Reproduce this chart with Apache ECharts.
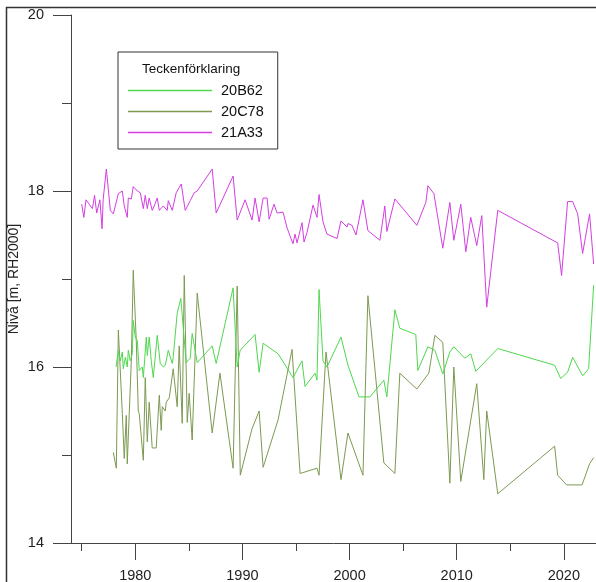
<!DOCTYPE html>
<html>
<head>
<meta charset="utf-8">
<script src="https://cdn.jsdelivr.net/npm/echarts@6/dist/echarts.min.js"></script>
<style>
html,body{margin:0;padding:0;background:#fff;}
#chart{width:596px;height:582px;}
</style>
</head>
<body>
<div id="chart"></div>
<script>
// ---- data ----
const seriesNames = ['20B62', '20C78', '21A33'];
const xTickLabels = [1980, 1990, 2000, 2010, 2020];
const xMinorTicks = [1975, 1985, 1995, 2005, 2015];
const yTickLabels = [14, 16, 18, 20];

const a33Years = [1975.0,1975.2,1975.4,1975.7,1976.0,1976.2,1976.4,1976.7,1976.9,1977.0,1977.3,1977.67,1977.95,1978.42,1978.79,1978.97,1979.25,1979.35,1979.63,1979.81,1980.19,1980.47,1980.75,1980.93,1981.12,1981.3,1981.58,1981.77,1982.05,1982.24,1982.61,1982.98,1983.08,1983.45,1983.82,1984.29,1984.66,1985.13,1985.5,1985.78,1987.18,1987.55,1989.13,1989.51,1990.25,1990.9,1991.18,1991.56,1991.93,1992.3,1992.49,1992.95,1993.23,1993.79,1994.17,1994.72,1994.91,1995.1,1995.56,1995.75,1996.03,1996.59,1996.96,1997.15,1997.52,1997.89,1998.83,1999.2,1999.76,1999.85,2000.22,2000.6,2001.25,2001.71,2002.83,2003.29,2003.48,2004.23,2006.28,2007.12,2007.31,2007.87,2008.7,2009.36,2009.73,2010.38,2010.85,2011.31,2011.87,2012.34,2012.8,2013.83,2019.42,2019.79,2020.35,2020.82,2021.29,2021.75,2022.4,2022.78];
const a33Levels = [17.85,17.7,17.9,17.85,17.8,17.95,17.75,17.9,17.57,17.9,18.25,17.78,17.74,17.97,18.0,17.83,17.7,17.92,17.91,18.05,18.0,17.98,17.8,17.95,17.8,17.92,17.78,17.83,17.92,17.78,17.83,17.78,17.89,17.78,17.98,18.08,17.78,17.89,17.98,18.0,18.25,17.75,18.17,17.67,17.9,17.67,17.92,17.65,17.92,17.92,17.68,17.85,17.75,17.76,17.58,17.4,17.51,17.41,17.64,17.42,17.53,17.84,17.7,17.96,17.65,17.51,17.46,17.66,17.59,17.63,17.61,17.5,17.9,17.55,17.44,17.83,17.54,17.91,17.61,17.87,18.06,17.97,17.35,17.87,17.44,17.85,17.31,17.7,17.38,17.72,16.68,17.78,17.41,17.04,17.88,17.88,17.74,17.29,17.74,17.17];

const b62Years = [1978.2,1978.42,1978.6,1978.79,1978.88,1979.07,1979.25,1979.35,1979.53,1979.72,1979.81,1980.0,1980.19,1980.37,1980.65,1980.75,1981.03,1981.12,1981.3,1981.49,1981.68,1982.05,1982.33,1982.61,1982.8,1983.08,1983.45,1983.54,1983.91,1984.25,1984.75,1985.13,1985.31,1985.78,1987.18,1987.55,1989.13,1989.51,1989.79,1991.18,1991.56,1991.93,1993.33,1994.72,1995.56,1995.84,1996.78,1996.96,1997.15,1997.52,1997.89,1999.2,1999.85,2000.88,2001.9,2003.2,2003.48,2004.23,2004.69,2006.18,2006.37,2007.31,2007.96,2008.7,2009.36,2009.73,2010.75,2011.31,2011.78,2013.83,2019.14,2019.7,2020.35,2020.82,2021.75,2022.31,2022.78];
const b62Levels = [16.0,16.19,16.07,16.17,15.98,16.11,16.0,16.19,16.07,16.15,16.53,16.34,16.3,15.96,16.0,15.88,16.34,16.13,16.34,16.07,15.88,16.36,16.04,16.0,16.02,16.19,16.04,16.11,16.61,16.78,16.05,16.1,16.38,16.05,16.24,16.04,16.9,16.0,16.19,16.37,15.94,16.27,16.15,15.88,16.07,15.78,15.93,15.85,16.88,16.07,16.0,16.34,16.02,15.66,15.66,15.85,15.66,16.65,16.44,16.37,15.96,16.23,16.19,15.92,16.17,16.23,16.1,16.15,15.95,16.21,16.02,15.87,15.94,16.11,15.9,15.98,16.93];

const c78Years = [1977.95,1978.23,1978.42,1978.79,1978.97,1979.16,1979.25,1979.63,1979.81,1980.09,1980.28,1980.37,1980.75,1980.93,1981.12,1981.3,1981.58,1981.95,1982.24,1982.42,1982.52,1982.8,1982.89,1983.17,1983.54,1983.91,1984.1,1984.38,1984.57,1984.85,1985.03,1985.31,1985.78,1987.18,1987.9,1989.13,1989.51,1989.8,1990.9,1991.56,1991.93,1993.33,1994.63,1995.38,1996.96,1997.15,1997.8,1999.2,1999.85,2001.25,2001.71,2003.2,2004.23,2004.69,2006.28,2007.4,2007.96,2008.7,2009.36,2009.73,2010.38,2011.87,2012.53,2012.8,2013.83,2019.14,2019.42,2020.26,2021.7,2022.4,2022.78];
const c78Levels = [15.03,14.85,16.42,15.47,14.96,15.45,14.9,16.07,17.1,16.3,15.5,15.47,14.94,15.88,15.15,15.6,15.08,15.08,15.68,15.28,15.55,15.5,15.6,15.65,15.98,15.55,16.24,15.36,17.04,15.37,15.7,15.17,16.84,15.25,15.93,14.85,16.92,14.77,15.3,15.5,14.86,15.4,16.2,14.79,14.85,14.77,16.17,14.72,15.25,14.77,16.81,14.91,14.79,15.93,15.75,15.93,16.36,16.28,14.68,16.0,14.7,15.81,14.72,15.5,14.56,15.1,14.77,14.66,14.66,14.9,14.97,14.63];

function zip(xs, ys) { return xs.map((x, i) => [x, ys[i]]); }

const colors = ['#4ed84e', '#7c9a52', '#d43ee2'];
const axisColor = '#444';
const fontFam = '"Liberation Sans", Arial, sans-serif';
const plain = v => String(v);

const chart = echarts.init(document.getElementById('chart'), null, {renderer: 'canvas'});
chart.setOption({
  animation: false,
  backgroundColor: '#fff',
  color: colors,
  textStyle: {fontFamily: fontFam},
  title: {
    text: 'Teckenförklaring',
    left: 142, top: 62, padding: 0,
    textStyle: {fontSize: 13.5, fontWeight: 'normal', color: '#111', fontFamily: fontFam}
  },
  legend: {
    orient: 'vertical',
    left: 118, top: 52,
    padding: [31, 14, 9, 10],
    borderColor: '#333', borderWidth: 1,
    icon: 'path://M0 0H84V1.4H0Z',
    itemWidth: 84, itemHeight: 1.4, itemGap: 6,
    data: seriesNames,
    textStyle: {fontSize: 14.5, lineHeight: 14, color: '#111', fontFamily: fontFam, padding: [0, 0, 0, 4]}
  },
  graphic: [{
    type: 'rect', left: 4, top: 5, z: 100, silent: true,
    shape: {width: 620, height: 620},
    style: {fill: 'none', stroke: '#333', lineWidth: 1.5}
  }],
  grid: {left: 71, right: 0, top: 15, bottom: 39, containLabel: false, outerBoundsMode: 'none'},
  xAxis: [{
    type: 'value', min: 1974, max: 2023,
    axisLine: {show: true, lineStyle: {color: axisColor, width: 1}},
    axisTick: {show: true, length: 17, customValues: xTickLabels, lineStyle: {color: axisColor}},
    axisLabel: {customValues: xTickLabels, formatter: plain, margin: 25, fontSize: 14.5, color: '#222', fontFamily: fontFam},
    splitLine: {show: false}
  }, {
    type: 'value', min: 1974, max: 2023, position: 'bottom',
    axisLine: {show: false},
    axisTick: {show: true, length: 8, customValues: xMinorTicks, lineStyle: {color: axisColor}},
    axisLabel: {show: false},
    splitLine: {show: false}
  }],
  yAxis: {
    type: 'value', min: 14, max: 20, interval: 2,
    name: 'Nivå [m, RH2000]', nameLocation: 'middle', nameGap: 50, nameMoveOverlap: false,
    nameTextStyle: {fontSize: 14, color: '#222', fontFamily: fontFam},
    axisLine: {show: true, lineStyle: {color: axisColor, width: 1}},
    axisTick: {show: true, length: 18, lineStyle: {color: axisColor}},
    minorTick: {show: true, splitNumber: 2, length: 9, lineStyle: {color: axisColor}},
    axisLabel: {margin: 27, fontSize: 14.5, color: '#222', fontFamily: fontFam,
      customValues: yTickLabels, formatter: plain},
    splitLine: {show: false}, minorSplitLine: {show: false}
  },
  series: [
    {name: seriesNames[0], type: 'line', xAxisIndex: 0, symbol: 'none', data: zip(b62Years, b62Levels), lineStyle: {width: 1}, z: 3},
    {name: seriesNames[1], type: 'line', xAxisIndex: 0, symbol: 'none', data: zip(c78Years, c78Levels), lineStyle: {width: 1}, z: 2},
    {name: seriesNames[2], type: 'line', xAxisIndex: 0, symbol: 'none', data: zip(a33Years, a33Levels), lineStyle: {width: 1}, z: 3}
  ]
});
</script>
</body>
</html>
